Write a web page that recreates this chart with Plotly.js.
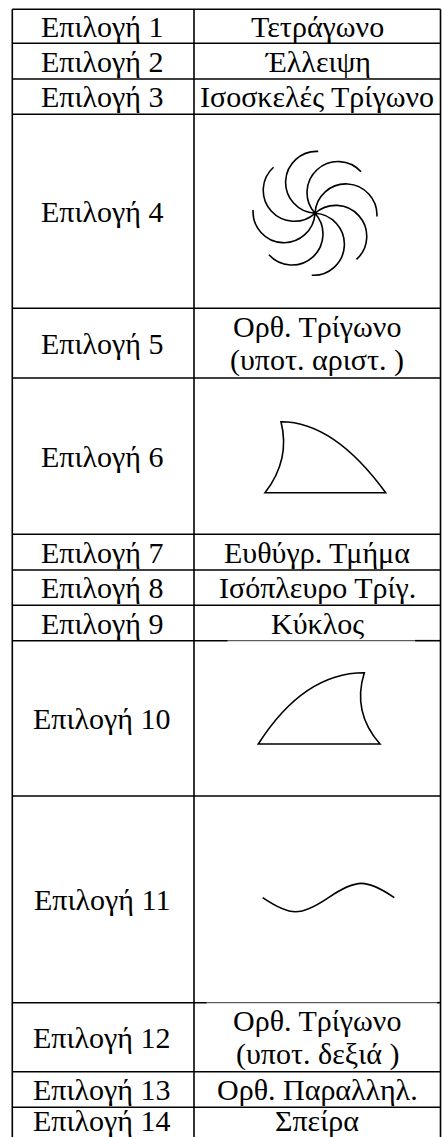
<!DOCTYPE html>
<html><head><meta charset="utf-8">
<script src="https://cdn.plot.ly/plotly-3.0.1.min.js"></script>
<style>
html,body{margin:0;padding:0;background:#fff;overflow:hidden}
#chart{width:442px;height:1137px}
#chart svg text, #chart .annotation-text{font-family:"Times New Roman","Liberation Serif",Tinos,serif !important}
</style>
</head><body><div id="chart"></div>
<script>
// ---- table content ----
const optionLabels = ['Επιλογή 1','Επιλογή 2','Επιλογή 3','Επιλογή 4','Επιλογή 5','Επιλογή 6','Επιλογή 7',
  'Επιλογή 8','Επιλογή 9','Επιλογή 10','Επιλογή 11','Επιλογή 12','Επιλογή 13','Επιλογή 14'];
const shapeNames = ['Τετράγωνο','Έλλειψη','Ισοσκελές Τρίγωνο','','Ορθ. Τρίγωνο\n(υποτ. αριστ. )','',
  'Ευθύγρ. Τμήμα','Ισόπλευρο Τρίγ.','Κύκλος','','','Ορθ. Τρίγωνο\n(υποτ. δεξιά )','Ορθ. Παραλληλ.','Σπείρα'];

// ---- layout geometry (pixels) ----
const W = 442, H = 1137;
const colEdges = [12.3, 194, 440.5];
const tableTop = 9.3;
const rowHeights = [34, 35.7, 35.3, 194, 69.7, 156.3, 35.7, 35.3, 35.4, 155.3, 206.7, 69, 35.6, 35.7];
const FONT = 'Times New Roman';
const FS = 30, LINE_GAP = 33, LW = 1.6;
const leftTextX = 102, rightTextX = 317;
const lastRowLift = 5; // keep the last (cropped) row's text inside the picture

// row boundaries
const rowEdges = [tableTop];
rowHeights.forEach(h => rowEdges.push(rowEdges[rowEdges.length-1] + h));

const shapes = [];
const line = (x0,y0,x1,y1,w) => shapes.push({type:'line',xref:'x',yref:'y',x0,y0,x1,y1,line:{color:'#000',width:w||LW}});

// vertical borders
colEdges.forEach(x => line(x, tableTop, x, rowEdges[rowEdges.length-1]));
// horizontal borders (pictures partly cover two borders in the right column)
const thinParts = {9:[227.7,415], 11:[206.7,437]};
rowEdges.forEach((y,i) => {
  if (thinParts[i]) {
    const [a,b] = thinParts[i];
    line(colEdges[0], y, a, y);
    line(a, y, b, y, 0.8);
    line(b, y, colEdges[2], y);
  } else line(colEdges[0], y, colEdges[2], y);
});

// ---- text ----
const annotations = [];
const addText = (x,y,t) => annotations.push({x,y,xref:'x',yref:'y',text:t,showarrow:false,
  xanchor:'center',yanchor:'middle',font:{family:FONT,size:FS,color:'#000'}});
optionLabels.forEach((lab,i) => {
  let cy = (rowEdges[i] + rowEdges[i+1]) / 2;
  if (i === optionLabels.length-1) cy -= lastRowLift;
  addText(leftTextX, cy, lab);
  if (shapeNames[i]) {
    const lines = shapeNames[i].split('\n');
    lines.forEach((t,j) => addText(rightTextX, cy + (j - (lines.length-1)/2) * LINE_GAP, t));
  }
});

// ---- drawings (outline points) ----
const finLeft = {bl:[265,492.7], cl:[290.6,459.7], top:[281,421.7], cr:[334,421.7], br:[385.7,492.7]};
const finRight = {bl:[258.3,744], cl:[303.7,672.7], top:[364.3,672.7], cr:[351.9,712.1], br:[380,744]};
const wave = {x0:262.7, x1:394.3, yMid:897.6, amp:14.2};
const pinwheel = {cx:315, cy:213.3, R:62, arms:8, firstAngle:87};

const P = p => p[0] + ',' + p[1];
function finPath(f){ return `M${P(f.bl)} Q${P(f.cl)} ${P(f.top)} Q${P(f.cr)} ${P(f.br)} Z`; }
function wavePath(w){
  const h = (w.x1 - w.x0) / 2, b = w.amp * 4/3, a = b / (2*Math.PI*w.amp/(2*h));
  const x0 = w.x0, y = w.yMid;
  return `M${x0},${y} C${x0+a},${y+b} ${x0+h-a},${y+b} ${x0+h},${y} C${x0+h+a},${y-b} ${x0+2*h-a},${y-b} ${x0+2*h},${y}`;
}
function pinwheelPath(s){
  const k = 0.5523, r = s.R/2; let p = '';
  for (let i=0;i<s.arms;i++){
    const th = (s.firstAngle - i*360/s.arms) * Math.PI/180;
    const dx = Math.cos(th), dy = -Math.sin(th);
    const nx = -Math.sin(th), ny = -Math.cos(th);
    const mx = s.cx + dx*r, my = s.cy + dy*r;
    const bx = mx + nx*r, by = my + ny*r;
    const ex = s.cx + dx*s.R, ey = s.cy + dy*s.R;
    p += `M${s.cx},${s.cy} C${s.cx+k*r*nx},${s.cy+k*r*ny} ${bx-k*r*dx},${by-k*r*dy} ${bx},${by} ` +
         `C${bx+k*r*dx},${by+k*r*dy} ${ex+k*r*nx},${ey+k*r*ny} ${ex},${ey} `;
  }
  return p;
}
const drawPath = d => shapes.push({type:'path',xref:'x',yref:'y',path:d,line:{color:'#000',width:LW},fillcolor:'rgba(0,0,0,0)'});
drawPath(pinwheelPath(pinwheel));
drawPath(finPath(finLeft));
drawPath(finPath(finRight));
drawPath(wavePath(wave));

const data = [{x:[0,W], y:[0,H], mode:'markers', marker:{opacity:0}, hoverinfo:'skip', showlegend:false}];
const layout = {
  width:W, height:H, margin:{l:0,r:0,t:0,b:0}, paper_bgcolor:'#fff', plot_bgcolor:'#fff',
  font:{family:FONT},
  xaxis:{range:[0,W], visible:false, fixedrange:true},
  yaxis:{range:[H,0], visible:false, fixedrange:true},
  shapes, annotations, showlegend:false
};
Plotly.newPlot('chart', data, layout, {displayModeBar:false});
</script></body></html>
